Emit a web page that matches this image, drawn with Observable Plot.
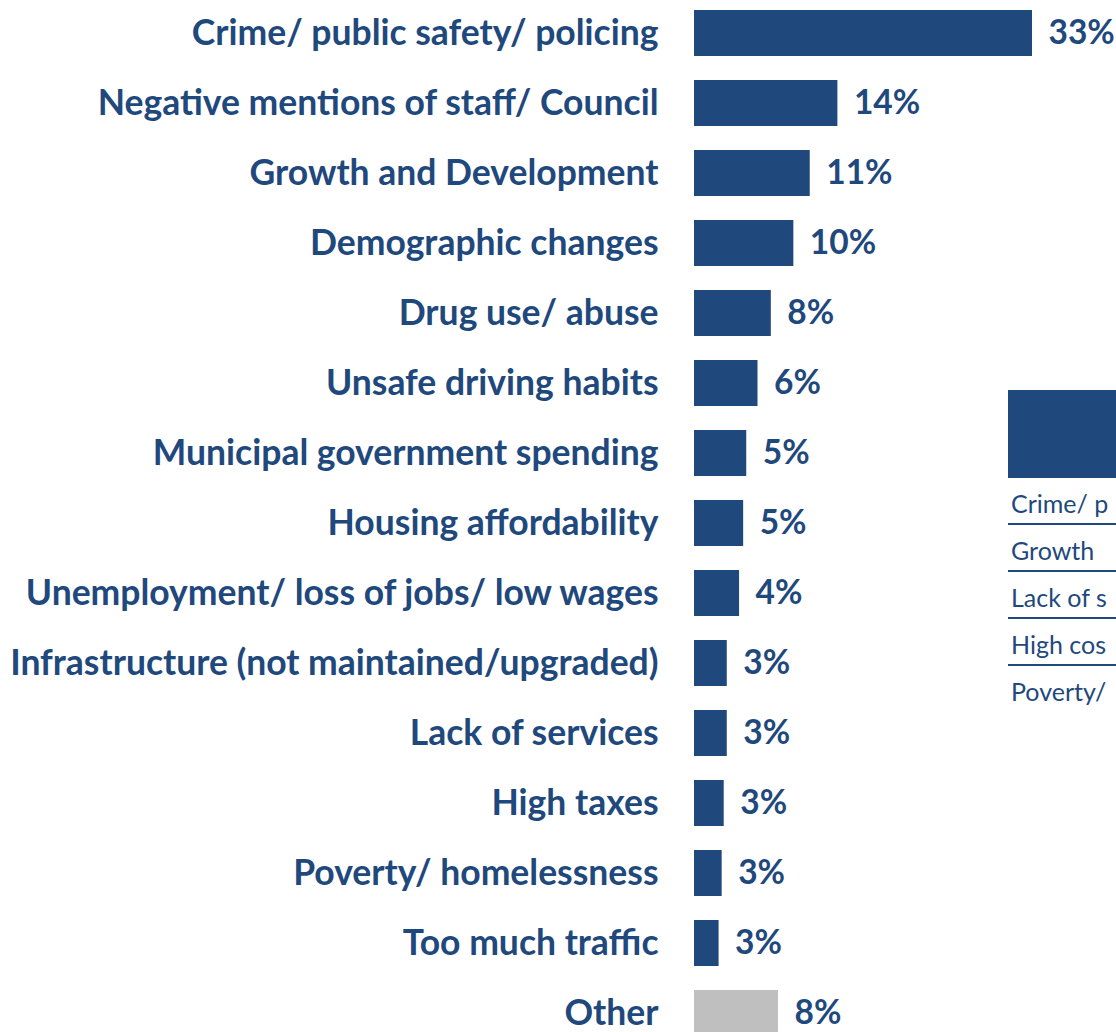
<!DOCTYPE html>
<html>
<head>
<meta charset="utf-8">
<script src="https://cdn.jsdelivr.net/npm/d3@7"></script>
<script src="https://cdn.jsdelivr.net/npm/@observablehq/plot@0.6"></script>
<style>
  html, body { margin: 0; padding: 0; background: #fff; overflow: hidden; }
  #wrap { position: relative; width: 1116px; height: 1032px; overflow: hidden; }
  #side { position: absolute; left: 1008px; top: 390px; width: 108px; font-family: Lato, "Open Sans", sans-serif; color: #1F497D; font-size: 25px; }
  #side .hdr { height: 88px; background: #1F497D; }
  #side .row { height: 47px; line-height: 50px; padding-left: 3px; border-bottom: 2.5px solid #1F497D; box-sizing: border-box; white-space: nowrap; }
  #side .row.last { border-bottom: none; }
</style>
</head>
<body>
<div id="wrap">
  <div id="chart"></div>
  <div id="side"></div>
</div>
<script>
const categories = [
  "Crime/ public safety/ policing",
  "Negative mentions of staff/ Council",
  "Growth and Development",
  "Demographic changes",
  "Drug use/ abuse",
  "Unsafe driving habits",
  "Municipal government spending",
  "Housing affordability",
  "Unemployment/ loss of jobs/ low wages",
  "Infrastructure (not maintained/upgraded)",
  "Lack of services",
  "High taxes",
  "Poverty/ homelessness",
  "Too much traffic",
  "Other"
];
const values = [33, 14, 11.3, 9.7, 7.5, 6.2, 5.1, 4.8, 4.4, 3.2, 3.2, 2.9, 2.7, 2.4, 8.2];
const valueLabels = ["33%", "14%", "11%", "10%", "8%", "6%", "5%", "5%", "4%", "3%", "3%", "3%", "3%", "3%", "8%"];
// visible fragments of the partly hidden table at the right edge
const sideRows = ["Crime/ p", "Growth", "Lack of s", "High cos", "Poverty/"];

const data = categories.map((c, i) => ({category: c, value: values[i], label: valueLabels[i], other: c === "Other"}));

const blue = "#1F497D";
const chart = Plot.plot({
  width: 1116,
  height: 1032,
  marginLeft: 694,
  marginRight: 84,
  marginTop: 0,
  marginBottom: 0,
  style: {fontFamily: "Lato, 'Open Sans', sans-serif", fontWeight: "bold", color: blue, background: "#fff", overflow: "visible"},
  x: {domain: [0, 33], axis: null},
  y: {domain: categories, range: [-16.3, 1062.5], padding: 0.345, label: null},
  marks: [
    Plot.barX(data, {y: "category", x: "value", fill: d => d.other ? "#BFBFBF" : blue}),
    Plot.text(data, {y: "category", x: "value", text: "label", textAnchor: "start", dx: 16, fontSize: 33.5, fill: blue}),
    Plot.axisY({tickSize: 0, tickPadding: 36, fontSize: 35.5, label: null})
  ]
});
document.getElementById("chart").appendChild(chart);

const side = document.getElementById("side");
const hdr = document.createElement("div"); hdr.className = "hdr"; side.appendChild(hdr);
sideRows.forEach((t, i) => {
  const r = document.createElement("div");
  r.className = "row" + (i === sideRows.length - 1 ? " last" : "");
  r.textContent = t;
  side.appendChild(r);
});
</script>
</body>
</html>
